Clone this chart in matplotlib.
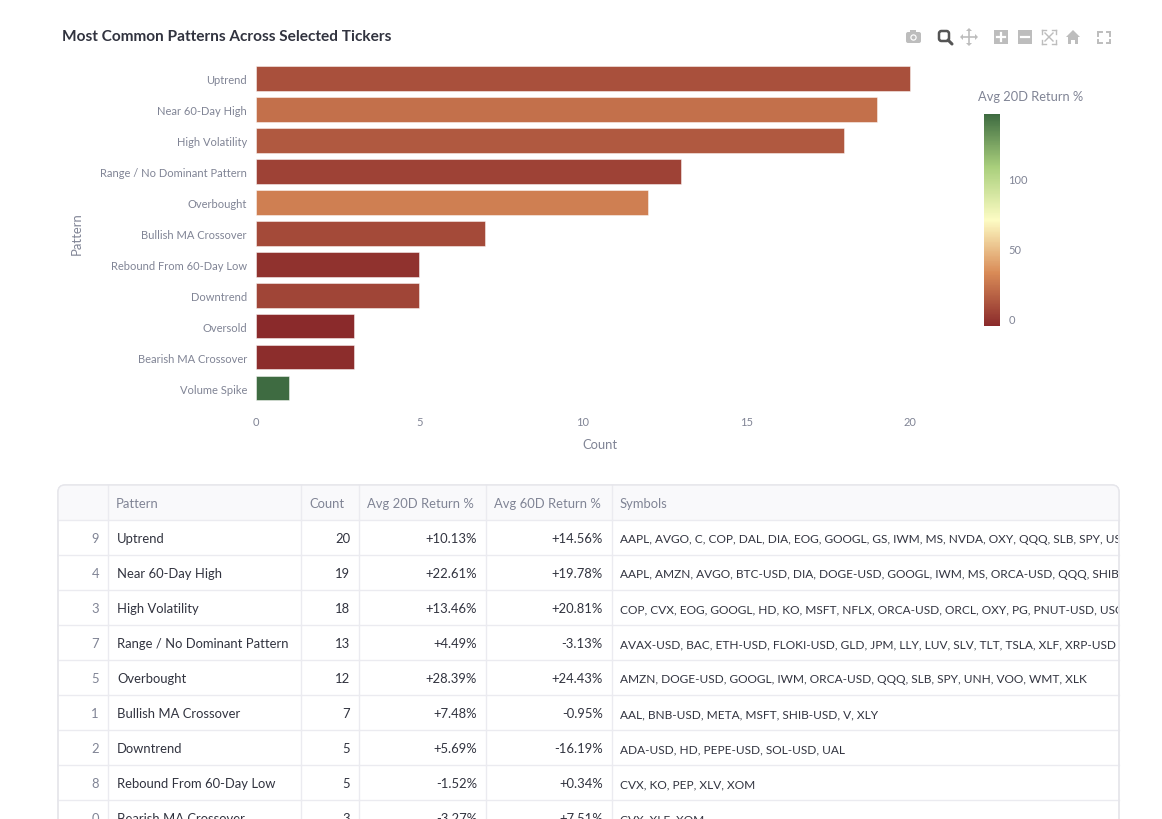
import matplotlib
matplotlib.use("Agg")
import matplotlib.pyplot as plt
import numpy as np
from matplotlib.colors import LinearSegmentedColormap, Normalize
from matplotlib.cm import ScalarMappable
from matplotlib.patches import Rectangle, FancyBboxPatch, Circle, Polygon

# ---------------- data ----------------
patterns = ["Uptrend", "Near 60-Day High", "High Volatility", "Range / No Dominant Pattern",
            "Overbought", "Bullish MA Crossover", "Rebound From 60-Day Low", "Downtrend",
            "Oversold", "Bearish MA Crossover", "Volume Spike"]
counts = [20, 19, 18, 13, 12, 7, 5, 5, 3, 3, 1]
avg20 = [10.13, 22.61, 13.46, 4.49, 28.39, 7.48, -1.52, 5.69, -5.0, -3.27, 146.4]

cbar_ticks = [0, 50, 100]
x_ticks = [0, 5, 10, 15, 20]

tbl_index = [9, 4, 3, 7, 5, 1, 2, 8, 0]
tbl_pattern = ["Uptrend", "Near 60-Day High", "High Volatility", "Range / No Dominant Pattern",
               "Overbought", "Bullish MA Crossover", "Downtrend", "Rebound From 60-Day Low",
               "Bearish MA Crossover"]
tbl_count = [20, 19, 18, 13, 12, 7, 5, 5, 3]
tbl_avg20 = ["+10.13%", "+22.61%", "+13.46%", "+4.49%", "+28.39%", "+7.48%", "+5.69%", "-1.52%", "-3.27%"]
tbl_avg60 = ["+14.56%", "+19.78%", "+20.81%", "-3.13%", "+24.43%", "-0.95%", "-16.19%", "+0.34%", "+7.51%"]
tbl_symbols = [
    "AAPL, AVGO, C, COP, DAL, DIA, EOG, GOOGL, GS, IWM, MS, NVDA, OXY, QQQ, SLB, SPY, USO",
    "AAPL, AMZN, AVGO, BTC-USD, DIA, DOGE-USD, GOOGL, IWM, MS, ORCA-USD, QQQ, SHIB-USD",
    "COP, CVX, EOG, GOOGL, HD, KO, MSFT, NFLX, ORCA-USD, ORCL, OXY, PG, PNUT-USD, USO",
    "AVAX-USD, BAC, ETH-USD, FLOKI-USD, GLD, JPM, LLY, LUV, SLV, TLT, TSLA, XLF, XRP-USD",
    "AMZN, DOGE-USD, GOOGL, IWM, ORCA-USD, QQQ, SLB, SPY, UNH, VOO, WMT, XLK",
    "AAL, BNB-USD, META, MSFT, SHIB-USD, V, XLY",
    "ADA-USD, HD, PEPE-USD, SOL-USD, UAL",
    "CVX, KO, PEP, XLV, XOM",
    "CVX, XLE, XOM",
]
tbl_headers = ["", "Pattern", "Count", "Avg 20D Return %", "Avg 60D Return %", "Symbols"]

# ---------------- style ----------------
FONT = "Lato"
plt.rcParams["font.family"] = [FONT, "DejaVu Sans"]
GREY = "#808495"
DARK = "#31333F"
W, H = 1162, 820

cmap = LinearSegmentedColormap.from_list(
    "rg", [(0.0, "#8A2A2B"), (0.25, "#D98B57"), (0.5, "#FDFCC4"), (0.75, "#A9CF7C"), (1.0, "#3E6B41")])
norm = Normalize(vmin=min(avg20), vmax=max(avg20))

fig = plt.figure(figsize=(W / 100, H / 100), dpi=100)
fig.patch.set_facecolor("white")

def fx(x):
    return x / W

def fy(y):
    return 1 - y / H

# overlay axes in pixel coordinates
ov = fig.add_axes([0, 0, 1, 1])
ov.set_xlim(0, W)
ov.set_ylim(H, 0)
ov.axis("off")

# title
ov.text(62, 37, "Most Common Patterns Across Selected Tickers", fontsize=11.1,
        fontweight="bold", color=DARK, ha="left", va="center")

# ---------------- bar chart ----------------
L, R, T, B = 256, 944, 64, 404.5
ax = fig.add_axes([fx(L), fy(B), (R - L) / W, (B - T) / H])
ypos = np.arange(len(patterns))
ax.barh(ypos, counts, height=0.8, color=cmap(norm(np.array(avg20))),
        edgecolor=(1, 1, 1, 0.55), linewidth=0.6)
ax.set_ylim(len(patterns) - 0.5, -0.5)
ax.set_xlim(0, 21.05)
ax.set_yticks(ypos)
ax.set_yticklabels(patterns)
ax.set_xticks(x_ticks)
ax.tick_params(axis="both", length=0, colors=GREY, labelsize=8.0)
ax.tick_params(axis="y", pad=6.5)
ax.tick_params(axis="x", pad=9)
for s in ax.spines.values():
    s.set_visible(False)
ax.set_facecolor("white")

ov.text((L + R) / 2, 445, "Count", fontsize=9.4, color=GREY, ha="center", va="center")
ov.text(77, 234, "Pattern", fontsize=9.4, color=GREY, ha="center", va="center", rotation=90)

# colorbar
cax = fig.add_axes([fx(984), fy(327), 16 / W, (327 - 115) / H])
sm = ScalarMappable(norm=norm, cmap=cmap)
cb = fig.colorbar(sm, cax=cax, ticks=cbar_ticks)
cb.outline.set_visible(False)
cax.tick_params(length=0, colors=GREY, labelsize=8.0, pad=6)
ov.text(1031, 97, "Avg 20D Return %", fontsize=9.3, color=GREY, ha="center", va="center")

# ---------------- modebar icons ----------------
IC = "#BDBDBD"
# camera
ov.add_patch(FancyBboxPatch((906, 33), 15, 11, boxstyle="round,pad=0,rounding_size=2",
                            fc=IC, ec="none"))
ov.add_patch(Rectangle((910, 31), 6, 3, fc=IC, ec="none"))
ov.add_patch(Circle((913.5, 38.5), 3.2, fc="white", ec="none"))
ov.add_patch(Circle((913.5, 38.5), 2.0, fc=IC, ec="none"))
# zoom (active)
ov.add_patch(FancyBboxPatch((939, 32), 10, 10, boxstyle="round,pad=0,rounding_size=2.5",
                            fc="none", ec="#555555", lw=1.8))
ov.plot([948, 952], [41, 45], color="#555555", lw=2.2, solid_capstyle="round")
# pan
ov.plot([962, 976], [38, 38], color=IC, lw=1.2)
ov.plot([969, 969], [31, 45], color=IC, lw=1.2)
for (x0, y0, dx, dy) in [(962, 38, -1, 0), (976, 38, 1, 0), (969, 31, 0, -1), (969, 45, 0, 1)]:
    if dx:
        ov.add_patch(Polygon([(x0 + dx * 2, y0), (x0 - dx * 1, y0 - 3), (x0 - dx * 1, y0 + 3)], fc=IC, ec="none"))
    else:
        ov.add_patch(Polygon([(x0, y0 + dy * 2), (x0 - 3, y0 - dy * 1), (x0 + 3, y0 - dy * 1)], fc=IC, ec="none"))
# plus / minus
for cx, plus in [(1001, True), (1025, False)]:
    ov.add_patch(Rectangle((cx - 7, 31), 14, 14, fc=IC, ec="none"))
    ov.plot([cx - 4, cx + 4], [38, 38], color="white", lw=1.6)
    if plus:
        ov.plot([cx, cx], [34, 42], color="white", lw=1.6)
# autoscale
for (x0, y0, sx, sy) in [(1042, 31, 1, 1), (1056, 31, -1, 1), (1042, 45, 1, -1), (1056, 45, -1, -1)]:
    ov.plot([x0, x0 + 4 * sx], [y0, y0], color=IC, lw=1.0)
    ov.plot([x0, x0], [y0, y0 + 4 * sy], color=IC, lw=1.0)
ov.plot([1045, 1053], [34, 42], color=IC, lw=1.0)
ov.plot([1045, 1053], [42, 34], color=IC, lw=1.0)
# home
ov.add_patch(Polygon([(1066, 38), (1073, 31), (1080, 38), (1078, 38), (1078, 45), (1075, 45),
                      (1075, 41), (1071, 41), (1071, 45), (1068, 45), (1068, 38)], fc=IC, ec="none"))
# fullscreen
for (x0, y0, sx, sy) in [(1098, 33, 1, 1), (1110, 33, -1, 1), (1098, 44, 1, -1), (1110, 44, -1, -1)]:
    ov.plot([x0, x0 + 3.5 * sx], [y0, y0], color=IC, lw=1.4)
    ov.plot([x0, x0], [y0, y0 + 3.5 * sy], color=IC, lw=1.4)

# ---------------- table ----------------
TL, TR, TT = 58, 1119, 486
HEAD_H, ROW_H = 35, 35
col_x = [58, 108, 301, 359, 486, 612, 1119]
BORDER = "#E6E6EB"
GRID = "#EBEBF0"

border = FancyBboxPatch((TL, TT), TR - TL, 420, boxstyle="round,pad=0,rounding_size=7",
                        fc="white", ec=BORDER, lw=1.0, zorder=1)
ov.add_patch(border)
head = Rectangle((TL, TT), TR - TL, HEAD_H, fc="#F9F9FB", ec="none", zorder=1.5)
ov.add_patch(head)
head.set_clip_path(border)

n_rows = len(tbl_pattern)
for i in range(n_rows + 1):
    yy = TT + HEAD_H + ROW_H * i
    ov.plot([TL, TR], [yy, yy], color=GRID, lw=1.0, zorder=2)
for cx in col_x[1:-1]:
    ov.plot([cx, cx], [TT, H + 5], color=GRID, lw=1.0, zorder=2)
ov.add_patch(FancyBboxPatch((TL, TT), TR - TL, 420, boxstyle="round,pad=0,rounding_size=7",
                            fc="none", ec=BORDER, lw=1.0, zorder=3))

TS = 9.4
SYM_TS = 8.6
hy = TT + HEAD_H / 2 + 1
for j, h in enumerate(tbl_headers):
    if h:
        ov.text(col_x[j] + 8, hy, h, fontsize=TS, color=GREY, ha="left", va="center", zorder=4)

sym_clip = Rectangle((col_x[5], TT), TR - col_x[5] - 1, 500, transform=ov.transData)
for i in range(n_rows):
    yc = TT + HEAD_H + ROW_H * i + ROW_H / 2 + 1
    ov.text(col_x[1] - 9, yc, str(tbl_index[i]), fontsize=TS, color=GREY, ha="right", va="center", zorder=4)
    ov.text(col_x[1] + 9, yc, tbl_pattern[i], fontsize=TS, color=DARK, ha="left", va="center", zorder=4)
    ov.text(col_x[3] - 9, yc, str(tbl_count[i]), fontsize=TS, color=DARK, ha="right", va="center", zorder=4)
    ov.text(col_x[4] - 9, yc, tbl_avg20[i], fontsize=TS, color=DARK, ha="right", va="center", zorder=4)
    ov.text(col_x[5] - 9, yc, tbl_avg60[i], fontsize=TS, color=DARK, ha="right", va="center", zorder=4)
    t = ov.text(col_x[5] + 8, yc, tbl_symbols[i], fontsize=SYM_TS, color=DARK, ha="left", va="center",
                zorder=4, clip_on=True)
    t.set_clip_path(sym_clip)

fig.savefig("out.png", dpi=100, facecolor="white")
